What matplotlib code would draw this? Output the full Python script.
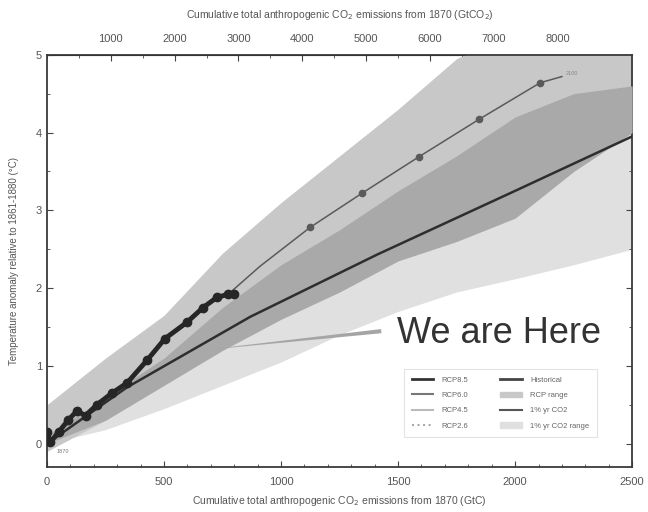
import numpy as np
import matplotlib
matplotlib.use("Agg")
import matplotlib.pyplot as plt
from matplotlib.lines import Line2D
from matplotlib.patches import Patch

plt.rcParams['font.family'] = ['Liberation Sans', 'DejaVu Sans']

# cumulative emissions grid (GtC) for shaded ranges
grid_x = [0, 250, 500, 750, 1000, 1250, 1500, 1750, 2000, 2250, 2500]
pct_range_lo = [0.0, 0.18, 0.45, 0.75, 1.05, 1.4, 1.7, 1.95, 2.12, 2.3, 2.5]
pct_range_hi = [0.1, 0.6, 1.1, 1.75, 2.3, 2.75, 3.25, 3.7, 4.2, 4.5, 4.6]
rcp_range_lo = [-0.1, 0.3, 0.75, 1.2, 1.6, 1.95, 2.35, 2.6, 2.9, 3.5, 4.0]
rcp_range_hi = [0.5, 1.1, 1.65, 2.45, 3.1, 3.7, 4.3, 4.95, 5.3, 5.6, 5.9]

# thick dotted curve (historical + low scenario)
hist_x = [0, 15, 50, 90, 128, 165, 213, 278, 342, 427, 504, 598, 667, 726, 774, 800]
hist_y = [0.15, 0.02, 0.15, 0.3, 0.42, 0.36, 0.5, 0.65, 0.78, 1.07, 1.35, 1.56, 1.75, 1.88, 1.92, 1.92]

# thin dotted curve (high scenario)
high_x = [774, 910, 1124, 1346, 1590, 1846, 2107, 2200]
high_y = [1.92, 2.28, 2.78, 3.22, 3.69, 4.17, 4.64, 4.72]

# 1% per year CO2 line
pct_x = [0, 340, 868, 1410, 2000, 2500]
pct_y = [0.0, 0.72, 1.63, 2.43, 3.25, 3.95]

x_ticks = [0, 500, 1000, 1500, 2000, 2500]
y_ticks = [0, 1, 2, 3, 4, 5]
top_ticks = [1000, 2000, 3000, 4000, 5000, 6000, 7000, 8000]

fig = plt.figure(figsize=(6.48, 5.12), dpi=100)
ax = fig.add_axes([0.0725, 0.088, 0.903, 0.805])

gx = np.array(grid_x)
plo, phi = np.array(pct_range_lo), np.array(pct_range_hi)
rlo, rhi = np.array(rcp_range_lo), np.array(rcp_range_hi)
ax.fill_between(gx, plo, phi, color='#e0e0e0', lw=0, zorder=1)
ax.fill_between(gx, rlo, rhi, color='#c8c8c8', lw=0, zorder=2)
olo, ohi = np.maximum(plo, rlo), np.minimum(phi, rhi)
ax.fill_between(gx, olo, ohi, where=ohi > olo, interpolate=True, color='#a9a9a9', lw=0, zorder=3)

ax.plot(pct_x, pct_y, color='#2e2e2e', lw=1.8, zorder=4)
ax.plot(high_x, high_y, color='#5a5a5a', lw=1.1, marker='o', ms=4.5,
        markevery=list(range(2, len(high_x) - 1)), zorder=5)
ax.plot(hist_x, hist_y, color='#262626', lw=3.5, marker='o', ms=6,
        solid_capstyle='round', zorder=6)

ax.text(2215, 4.74, '2100', fontsize=4, color='#888888', zorder=7)
ax.text(40, -0.12, '1870', fontsize=4, color='#777777', zorder=7)

# annotation
ax.annotate('', xy=(630, 1.19), xytext=(1440, 1.45),
            arrowprops=dict(arrowstyle='wedge,tail_width=0.3', color='#a5a5a5', lw=0),
            zorder=7)
ax.text(1495, 1.29, 'We are Here', fontsize=26, color='#333333', va='baseline', zorder=8)

ax.set_xlim(0, 2500)
ax.set_ylim(-0.3, 5)
ax.set_xticks(x_ticks)
ax.set_yticks(y_ticks)
ax.set_xticks(np.arange(0, 2501, 100), minor=True)
ax.set_yticks(np.arange(-0.0, 5.01, 0.5), minor=True)
ax.tick_params(which='both', direction='in', colors='#444444', labelcolor='#555555',
               labelsize=8, top=False, right=True)
ax.tick_params(which='major', length=4)
ax.tick_params(which='minor', length=2)
ax.tick_params(axis='x', pad=7)
for s in ax.spines.values():
    s.set_color('#3a3a3a')
    s.set_linewidth(1.3)

ax.set_xlabel('Cumulative total anthropogenic CO$_2$ emissions from 1870 (GtC)',
              fontsize=7.5, color='#555555', labelpad=5)
ax.set_ylabel('Temperature anomaly relative to 1861-1880 (°C)',
              fontsize=7, color='#555555', labelpad=12)

top = ax.secondary_xaxis('top', functions=(lambda v: v * 3.667, lambda v: v / 3.667))
top.set_xticks(top_ticks)
top.set_xticks(np.arange(0, 9200, 500), minor=True)
top.tick_params(which='both', direction='in', colors='#444444', labelcolor='#555555',
                labelsize=8, pad=8)
top.tick_params(which='major', length=4)
top.tick_params(which='minor', length=2)
top.set_xlabel('Cumulative total anthropogenic CO$_2$ emissions from 1870 (GtCO$_2$)',
               fontsize=7.5, color='#555555', labelpad=11)

handles = [
    Line2D([], [], color='#333333', lw=2),
    Line2D([], [], color='#777777', lw=1.5),
    Line2D([], [], color='#bbbbbb', lw=1.5),
    Line2D([], [], color='#aaaaaa', lw=1.5, ls=':'),
    Line2D([], [], color='#444444', lw=2),
    Patch(color='#c8c8c8'),
    Line2D([], [], color='#555555', lw=1.5),
    Patch(color='#e0e0e0'),
]
labels = ['RCP8.5', 'RCP6.0', 'RCP4.5', 'RCP2.6',
          'Historical', 'RCP range', '1% yr CO2', '1% yr CO2 range']
leg = ax.legend(handles, labels, ncol=2, loc='lower left', bbox_to_anchor=(0.61, 0.072),
                fontsize=5.5, frameon=True, fancybox=False, labelspacing=1.05,
                handlelength=2.8, columnspacing=4.2, borderpad=1.0, borderaxespad=0,
                handletextpad=1.1, labelcolor='#666666')
leg.get_frame().set_edgecolor('#dddddd')
leg.get_frame().set_linewidth(0.8)
leg.set_zorder(9)

fig.savefig('out.png', dpi=100)
